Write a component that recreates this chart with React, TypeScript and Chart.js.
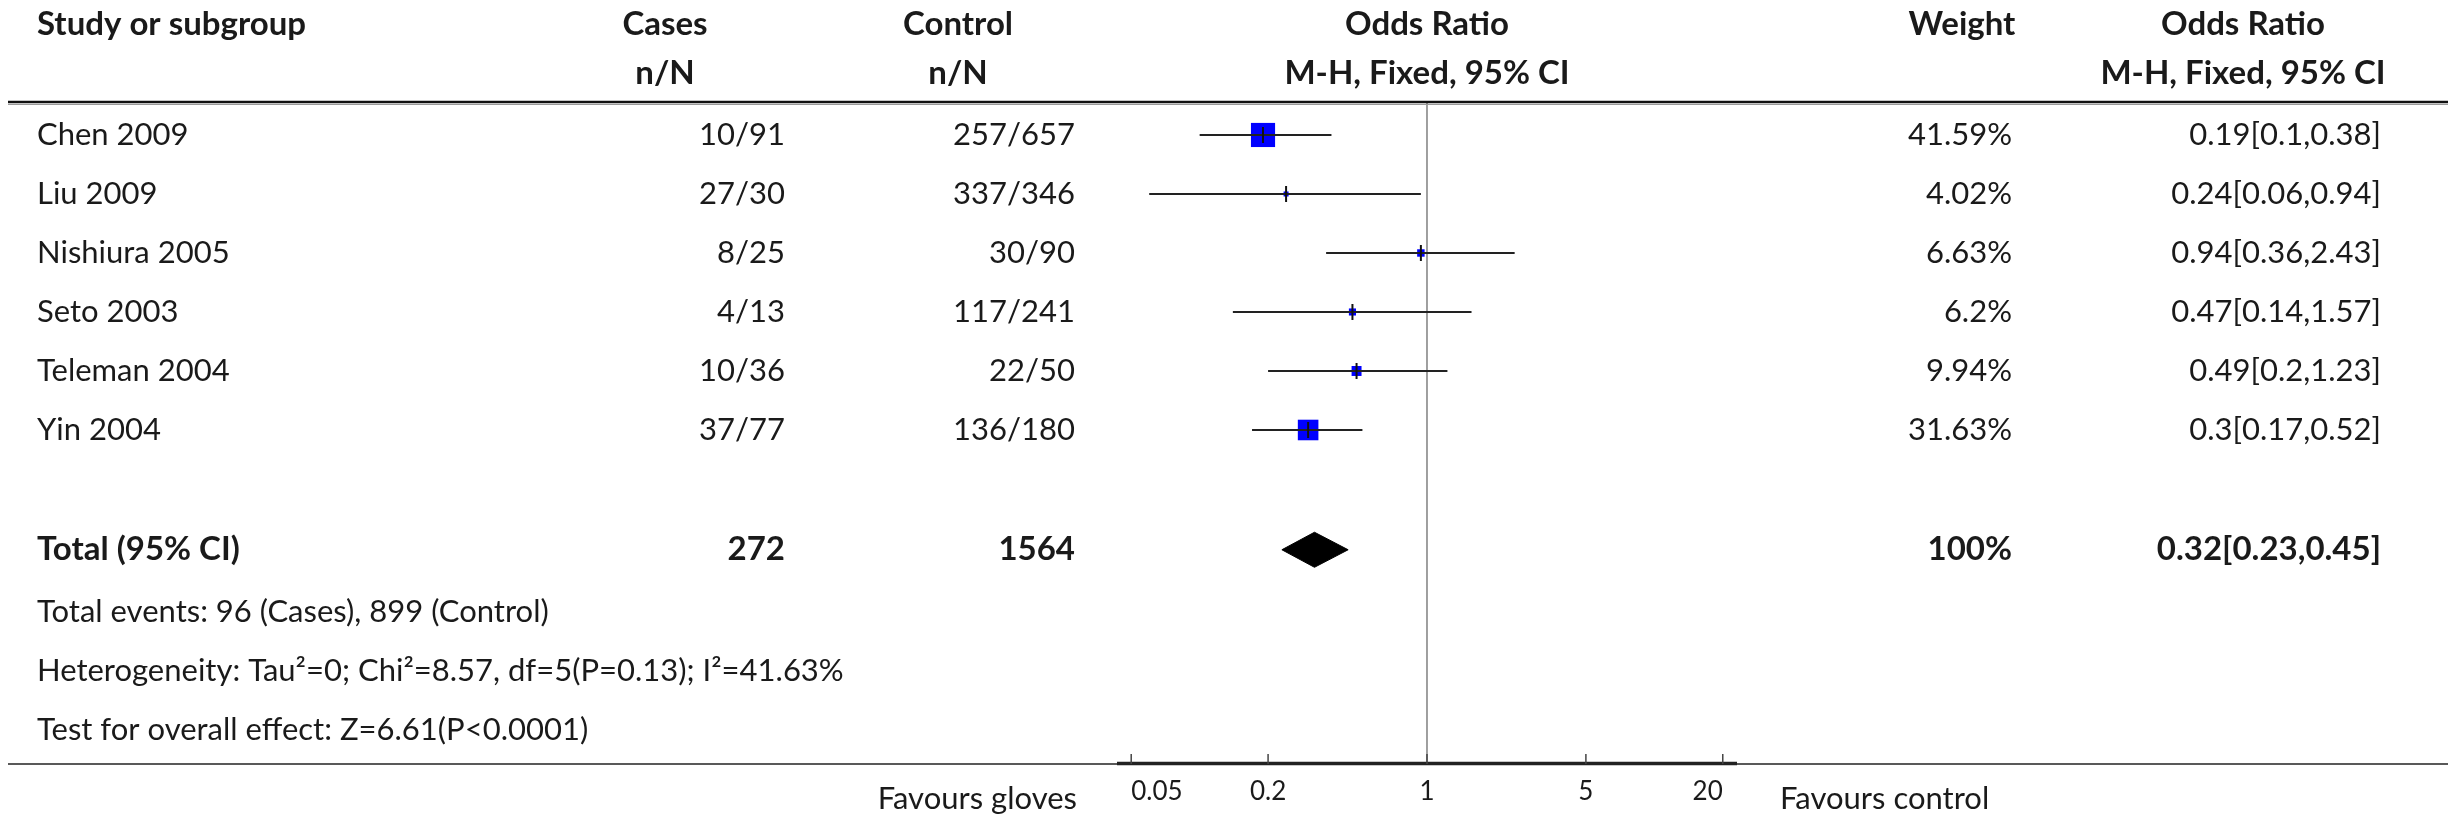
import React, { useEffect, useRef } from "react";
import { Chart, registerables } from "chart.js";
Chart.register(...registerables);

// ---------- data ----------
const STUDIES = ["Chen 2009", "Liu 2009", "Nishiura 2005", "Seto 2003", "Teleman 2004", "Yin 2004"];
const CASES = ["10/91", "27/30", "8/25", "4/13", "10/36", "37/77"];
const CONTROLS = ["257/657", "337/346", "30/90", "117/241", "22/50", "136/180"];
const ODDS = [0.19, 0.24, 0.94, 0.47, 0.49, 0.3];
const CI_LOW = [0.1, 0.06, 0.36, 0.14, 0.2, 0.17];
const CI_HIGH = [0.38, 0.94, 2.43, 1.57, 1.23, 0.52];
const WEIGHTS = [41.59, 4.02, 6.63, 6.2, 9.94, 31.63];

const TOTAL_LABEL = "Total (95% CI)";
const TOTAL_CASES = 272;
const TOTAL_CONTROL = 1564;
const TOTAL_OR = 0.32;
const TOTAL_LOW = 0.23;
const TOTAL_HIGH = 0.45;
const TOTAL_WEIGHT = 100;

const FOOTNOTES = [
  "Total events: 96 (Cases), 899 (Control)",
  "Heterogeneity: Tau\u00B2=0; Chi\u00B2=8.57, df=5(P=0.13); I\u00B2=41.63%",
  "Test for overall effect: Z=6.61(P<0.0001)",
];
const X_TICKS = [0.05, 0.2, 1, 5, 20];
const FAVOURS_LEFT = "Favours gloves";
const FAVOURS_RIGHT = "Favours control";

// ---------- layout / style ----------
const W = 2448;
const H = 816;
const FONT = "Lato, 'Noto Sans', sans-serif";
const TXT = "#1a1a1a";
const BODY_PX = 31;
const BOLD_PX = 33;
const TICK_PX = 26;
const TOTAL_ROW = 7.03;
const FOOT_ROW0 = 8.08;
const DIAMOND_HALF = 0.297; // rows
const COL = {
  studyX: 37,
  casesRight: 785,
  casesHead: 665,
  controlRight: 1075,
  controlHead: 958,
  weightRight: 2012,
  weightHead: 1962,
  orRight: 2381,
  orHead: 2243,
};
const HEAD_Y1 = 24;
const HEAD_Y2 = 73;
const HEADER_LINE_Y = 102;

const boxRadius = (w: number) => (4.3 * Math.sqrt(w) - 3.6) / (2 * Math.SQRT1_2);

const tablePlugin = {
  id: "forestTable",
  beforeDatasetsDraw(chart: any) {
    const { ctx, scales, chartArea } = chart;
    const x1 = scales.x.getPixelForValue(1);
    ctx.save();
    ctx.strokeStyle = "#808080";
    ctx.lineWidth = 1.5;
    ctx.beginPath();
    ctx.moveTo(x1, chartArea.top);
    ctx.lineTo(x1, chartArea.bottom);
    ctx.stroke();
    ctx.restore();
  },
  afterDraw(chart: any) {
    const { ctx, scales, chartArea } = chart;
    const ys = scales.y;
    const xs = scales.x;
    ctx.save();
    // header lines
    ctx.strokeStyle = "#111";
    ctx.lineWidth = 2.5;
    ctx.beginPath();
    ctx.moveTo(8, HEADER_LINE_Y);
    ctx.lineTo(W, HEADER_LINE_Y);
    ctx.stroke();
    ctx.strokeStyle = "#9a9a9a";
    ctx.lineWidth = 1;
    ctx.beginPath();
    ctx.moveTo(8, HEADER_LINE_Y + 2.5);
    ctx.lineTo(W, HEADER_LINE_Y + 2.5);
    ctx.stroke();

    // bottom axis line
    const axY = chartArea.bottom;
    ctx.strokeStyle = "#222";
    ctx.lineWidth = 1.5;
    ctx.beginPath();
    ctx.moveTo(8, axY);
    ctx.lineTo(W, axY);
    ctx.stroke();
    ctx.lineWidth = 3.5;
    ctx.beginPath();
    ctx.moveTo(chartArea.left, axY - 0.5);
    ctx.lineTo(chartArea.right, axY - 0.5);
    ctx.stroke();
    ctx.lineWidth = 1.5;
    ctx.strokeStyle = "#444";
    X_TICKS.forEach((t) => {
      const px = xs.getPixelForValue(t);
      ctx.beginPath();
      ctx.moveTo(px, axY - 10);
      ctx.lineTo(px, axY);
      ctx.stroke();
    });
    ctx.fillStyle = TXT;
    ctx.textBaseline = "middle";
    ctx.font = `${TICK_PX}px ${FONT}`;
    X_TICKS.forEach((t, i) => {
      ctx.textAlign = i === 0 ? "left" : i === X_TICKS.length - 1 ? "right" : "center";
      ctx.fillText(String(t), xs.getPixelForValue(t), 792);
    });
    ctx.font = `${BODY_PX}px ${FONT}`;
    ctx.textAlign = "right";
    ctx.fillText(FAVOURS_LEFT, 1077, 799);
    ctx.textAlign = "left";
    ctx.fillText(FAVOURS_RIGHT, 1780, 799);

    // headers
    ctx.font = `bold ${BOLD_PX}px ${FONT}`;
    ctx.textAlign = "left";
    ctx.fillText("Study or subgroup", COL.studyX, HEAD_Y1);
    ctx.textAlign = "center";
    ctx.fillText("Cases", COL.casesHead, HEAD_Y1);
    ctx.fillText("n/N", COL.casesHead, HEAD_Y2);
    ctx.fillText("Control", COL.controlHead, HEAD_Y1);
    ctx.fillText("n/N", COL.controlHead, HEAD_Y2);
    const fc = (chartArea.left + chartArea.right) / 2;
    ctx.fillText("Odds Ratio", fc, HEAD_Y1);
    ctx.fillText("M-H, Fixed, 95% CI", fc, HEAD_Y2);
    ctx.fillText("Weight", COL.weightHead, HEAD_Y1);
    ctx.fillText("Odds Ratio", COL.orHead, HEAD_Y1);
    ctx.fillText("M-H, Fixed, 95% CI", COL.orHead, HEAD_Y2);

    // study rows
    ctx.font = `${BODY_PX}px ${FONT}`;
    STUDIES.forEach((s, i) => {
      const y = ys.getPixelForValue(i);
      ctx.textAlign = "left";
      ctx.fillText(s, COL.studyX, y);
      ctx.textAlign = "right";
      ctx.fillText(CASES[i], COL.casesRight, y);
      ctx.fillText(CONTROLS[i], COL.controlRight, y);
      ctx.fillText(`${WEIGHTS[i]}%`, COL.weightRight, y);
      ctx.fillText(`${ODDS[i]}[${CI_LOW[i]},${CI_HIGH[i]}]`, COL.orRight, y);
    });

    // total row
    const ty = ys.getPixelForValue(TOTAL_ROW);
    ctx.font = `bold ${BOLD_PX}px ${FONT}`;
    ctx.textAlign = "left";
    ctx.fillText(TOTAL_LABEL, COL.studyX, ty);
    ctx.textAlign = "right";
    ctx.fillText(String(TOTAL_CASES), COL.casesRight, ty);
    ctx.fillText(String(TOTAL_CONTROL), COL.controlRight, ty);
    ctx.fillText(`${TOTAL_WEIGHT}%`, COL.weightRight, ty);
    ctx.fillText(`${TOTAL_OR}[${TOTAL_LOW},${TOTAL_HIGH}]`, COL.orRight, ty);

    // footnotes
    ctx.font = `${BODY_PX}px ${FONT}`;
    ctx.textAlign = "left";
    FOOTNOTES.forEach((f, k) => {
      ctx.fillText(f, COL.studyX, ys.getPixelForValue(FOOT_ROW0 + k));
    });
    ctx.restore();
  },
};

export default function App() {
  const ref = useRef<HTMLCanvasElement | null>(null);
  useEffect(() => {
    if (!ref.current) return;
    const ciSets = STUDIES.map((s, i) => ({
      label: `${s} CI`,
      data: [
        { x: CI_LOW[i], y: i },
        { x: CI_HIGH[i], y: i },
      ],
      showLine: true,
      borderColor: "#222",
      borderWidth: 2,
      pointRadius: 0,
      order: 2,
    }));
    const chart = new Chart(ref.current, {
      type: "scatter",
      data: {
        datasets: [
          {
            label: "boxes",
            data: ODDS.map((v, i) => ({ x: v, y: i })),
            pointStyle: "rect",
            pointRadius: WEIGHTS.map((w) => boxRadius(w)),
            backgroundColor: "#0000ff",
            borderWidth: 0,
            order: 3,
          },
          ...ciSets,
          {
            label: "marks",
            data: ODDS.map((v, i) => ({ x: v, y: i })),
            pointStyle: "line",
            rotation: 90,
            pointRadius: 8,
            borderColor: "#111",
            borderWidth: 2,
            order: 1,
          },
          {
            label: "total",
            data: [
              { x: TOTAL_LOW, y: TOTAL_ROW },
              { x: TOTAL_OR, y: TOTAL_ROW - DIAMOND_HALF },
              { x: TOTAL_HIGH, y: TOTAL_ROW },
              { x: TOTAL_OR, y: TOTAL_ROW + DIAMOND_HALF },
              { x: TOTAL_LOW, y: TOTAL_ROW },
            ],
            showLine: true,
            fill: "shape",
            backgroundColor: "#000",
            borderColor: "#000",
            borderWidth: 1,
            pointRadius: 0,
            order: 1,
          } as any,
        ],
      },
      options: {
        animation: false,
        responsive: false,
        devicePixelRatio: 1,
        layout: { padding: { left: 1117, right: W - 1737, top: 103, bottom: H - 764 } },
        plugins: { legend: { display: false }, tooltip: { enabled: false } },
        scales: {
          x: { type: "logarithmic", min: 0.0433, max: 23.1, bounds: "data", display: false },
          y: { type: "linear", min: -0.542, max: 10.661, reverse: true, bounds: "data", display: false },
        },
      } as any,
      plugins: [tablePlugin],
    });
    return () => chart.destroy();
  }, []);
  return (
    <div style={{ position: "fixed", left: 0, top: 0, width: W, height: H, background: "#fff" }}>
      <canvas ref={ref} width={W} height={H} style={{ display: "block" }} />
    </div>
  );
}
